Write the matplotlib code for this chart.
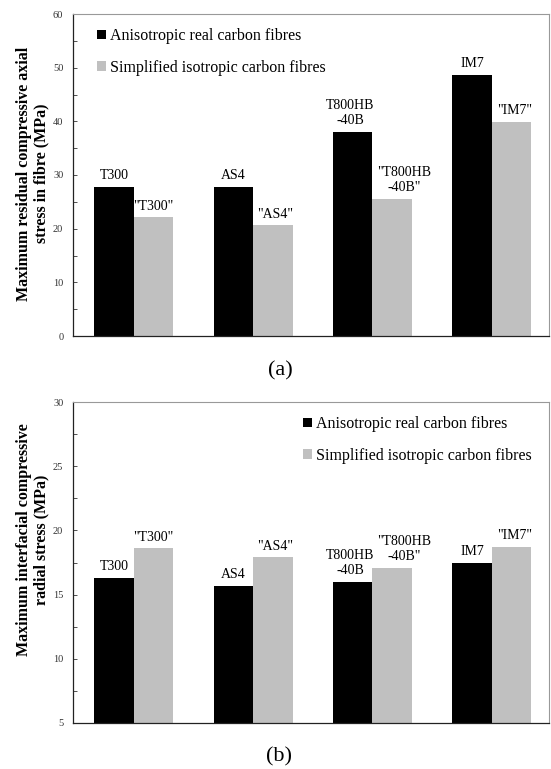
import matplotlib
matplotlib.use("Agg")
import matplotlib.pyplot as plt
import numpy as np
from matplotlib.ticker import MultipleLocator

plt.rcParams['font.family'] = ['Liberation Serif', 'DejaVu Serif']

fibres = ["T300", "AS4", "T800HB\n-40B", "IM7"]
iso_labels = ['"T300"', '"AS4"', '"T800HB\n-40B"', '"IM7"']
series_names = ["Anisotropic real carbon fibres", "Simplified isotropic carbon fibres"]

axial_aniso = [27.8, 27.7, 38.0, 48.6]
axial_iso = [22.1, 20.6, 25.6, 39.9]

radial_aniso = [16.3, 15.7, 16.0, 17.5]
radial_iso = [18.6, 17.9, 17.1, 18.7]

W, H = 551, 769
fig = plt.figure(figsize=(W / 100, H / 100), dpi=100)

AX_L, AX_R = 73, 549
AW = AX_R - AX_L

def px_axes(t, b):
    return fig.add_axes([AX_L / W, 1 - b / H, AW / W, (b - t) / H])

ax1 = px_axes(14, 336)
ax2 = px_axes(402, 723)

black = "#000000"
grey = "#c0c0c0"
bw = 0.33
x = np.arange(len(fibres))
# horizontal nudges (points) of the data labels, as placed in the original
aniso_dx = [0, 0, -2, 0]
iso_dx = [0, 2, 9, 2]

def draw(ax, a_vals, i_vals, ylim, major, minor, ylabel, label_y, leg_anchor):
    ax.bar(x - bw / 2, a_vals, bw, color=black, label=series_names[0])
    ax.bar(x + bw / 2, i_vals, bw, color=grey, label=series_names[1])
    for xi, v, t, dx in zip(x, a_vals, fibres, aniso_dx):
        ax.annotate(t, (xi - bw / 2, v), xytext=(dx, 3.5), textcoords="offset points",
                    ha="center", va="bottom", fontsize=10, linespacing=1.2)
    for xi, v, t, dx in zip(x, i_vals, iso_labels, iso_dx):
        ax.annotate(t, (xi + bw / 2, v), xytext=(dx, 3.5), textcoords="offset points",
                    ha="center", va="bottom", fontsize=10, linespacing=1.2)
    ax.set_xlim(-0.51, 3.48)
    ax.set_ylim(*ylim)
    ax.yaxis.set_major_locator(MultipleLocator(major))
    ax.yaxis.set_minor_locator(MultipleLocator(minor))
    ax.set_xticks([])
    ax.tick_params(axis="y", which="both", direction="in", length=3, width=0.6,
                   labelsize=7.5, pad=7, labelcolor="#333333", color="#333333")
    for s in ["left", "bottom"]:
        ax.spines[s].set_color("#222222")
        ax.spines[s].set_linewidth(0.9)
    for s in ["top", "right"]:
        ax.spines[s].set_color("#999999")
        ax.spines[s].set_linewidth(0.8)
    ax.set_ylabel(ylabel, fontsize=11.5, fontweight="bold", linespacing=1.05)
    ax.yaxis.set_label_coords(-24 / AW, label_y)
    ax.legend(loc="upper left", bbox_to_anchor=leg_anchor, frameon=False,
              fontsize=11.5, handlelength=0.55, handleheight=0.55, handletextpad=0.25,
              labelspacing=0.98, borderpad=0, borderaxespad=0)

draw(ax1, axial_aniso, axial_iso, (0, 60), 10, 5,
     "Maximum residual compressive axial\nstress in fibre (MPa)", 0.505,
     ((97 - AX_L) / AW, 1 - (28 - 14) / 322))
draw(ax2, radial_aniso, radial_iso, (5, 30), 5, 2.5,
     "Maximum interfacial compressive\nradial stress (MPa)", 0.57,
     ((303 - AX_L) / AW, 1 - (416 - 402) / 321))

fig.text(280 / W, 1 - 371 / H, "(a)", ha="center", va="center", fontsize=16)
fig.text(279 / W, 1 - 757 / H, "(b)", ha="center", va="center", fontsize=16)

fig.savefig("out.png", dpi=100)
